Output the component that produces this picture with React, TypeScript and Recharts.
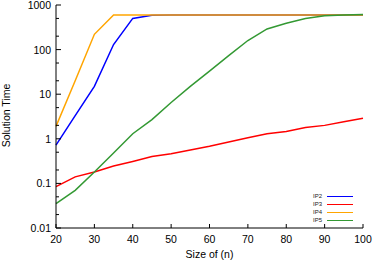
import React from "react";
import { LineChart, Line, XAxis, YAxis } from "recharts";

const sizes = [20, 25, 30, 35, 40, 45, 50, 55, 60, 65, 70, 75, 80, 85, 90, 95, 100];
const ip2 = [0.72, 3.3, 15, 130, 500, 590, 600, 600, 600, 600, 600, 600, 600, 600, 600, 600, 600];
const ip3 = [0.085, 0.14, 0.18, 0.245, 0.31, 0.4, 0.46, 0.56, 0.68, 0.85, 1.05, 1.3, 1.45, 1.8, 2.0, 2.4, 2.9];
const ip4 = [1.9, 20, 220, 600, 600, 600, 600, 600, 600, 600, 600, 600, 600, 600, 600, 600, 600];
const ip5 = [0.035, 0.07, 0.18, 0.48, 1.3, 2.7, 6.5, 15, 33, 73, 160, 290, 390, 500, 575, 600, 610];

const xTicks = [20, 30, 40, 50, 60, 70, 80, 90, 100];
const yTicks = [0.01, 0.02, 0.05, 0.1, 0.2, 0.5, 1, 2, 5, 10, 20, 50, 100, 200, 500, 1000];
const yMajor = [0.01, 0.1, 1, 10, 100, 1000];

const series = [
  { key: "ip2", name: "IP2", color: "#0000ff" },
  { key: "ip3", name: "IP3", color: "#ff0000" },
  { key: "ip4", name: "IP4", color: "#ffa500" },
  { key: "ip5", name: "IP5", color: "#339933" },
];

const data = sizes.map((n, i) => ({ n, ip2: ip2[i], ip3: ip3[i], ip4: ip4[i], ip5: ip5[i] }));

const font = "'Liberation Sans', Arial, sans-serif";
const ink = "#000";

const isMajor = (v: number) => yMajor.some(m => Math.abs(m - v) < 1e-9);

const BottomTick = (p: any) => (
  <g>
    <line x1={p.x} y1={p.y} x2={p.x} y2={p.y - 4} stroke={ink} />
    <text x={p.x} y={p.y + 15} textAnchor="middle" fontSize={10.5} fill="#000" fontFamily={font}>
      {p.payload.value}
    </text>
  </g>
);

const TopTick = (p: any) => <line x1={p.x} y1={p.y} x2={p.x} y2={p.y + 4} stroke={ink} />;

const LeftTick = (p: any) => {
  const v = p.payload.value;
  const major = isMajor(v);
  return (
    <g>
      <line x1={p.x} y1={p.y} x2={p.x + (major ? 5 : 3)} y2={p.y} stroke={ink} />
      {major && (
        <text x={p.x - 5} y={p.y + 4} textAnchor="end" fontSize={10.5} fill="#000" fontFamily={font}>
          {v}
        </text>
      )}
    </g>
  );
};

const RightTick = (p: any) => {
  const major = isMajor(p.payload.value);
  return <line x1={p.x} y1={p.y} x2={p.x - (major ? 5 : 3)} y2={p.y} stroke={ink} />;
};

export default function App() {
  return (
    <div style={{ position: "absolute", left: 0, top: 0, width: 374, height: 261, background: "#fff", fontFamily: font }}>
      <LineChart width={374} height={261} data={data} margin={{ top: 5, right: 11, left: 0, bottom: 0 }}>
        <XAxis
          dataKey="n" type="number" domain={[20, 100]} ticks={xTicks}
          height={33} tickSize={0} tickMargin={0} tick={BottomTick}
          axisLine={{ stroke: ink }} interval={0}
          label={{ value: "Size of (n)", position: "insideBottom", offset: 3, fontSize: 10.5, fill: "#000", fontFamily: font }}
        />
        <XAxis
          xAxisId="top" orientation="top" dataKey="n" type="number" domain={[20, 100]} ticks={xTicks}
          height={0} tickSize={0} tickMargin={0} tick={TopTick} axisLine={{ stroke: ink }} interval={0}
        />
        <YAxis
          scale="log" domain={[0.01, 1000]} ticks={yTicks} allowDataOverflow type="number"
          width={56} tickSize={0} tickMargin={0} tick={LeftTick} axisLine={{ stroke: ink }} interval={0}
          label={{ value: "Solution Time", angle: -90, position: "insideLeft", offset: 6, dy: -1, fontSize: 10.5, fill: "#000", fontFamily: font, style: { textAnchor: "middle" } }}
        />
        <YAxis
          yAxisId="right" orientation="right" scale="log" domain={[0.01, 1000]} ticks={yTicks} allowDataOverflow type="number"
          width={0} tickSize={0} tickMargin={0} tick={RightTick} axisLine={{ stroke: ink }} interval={0}
        />
        {series.map(s => (
          <Line
            key={s.key} dataKey={s.key} name={s.name} stroke={s.color} strokeWidth={1.5}
            dot={false} isAnimationActive={false} type="linear"
          />
        ))}
      </LineChart>
      <div style={{ position: "absolute", left: 296, top: 192, fontSize: 6, color: "#222", lineHeight: "8.1px" }}>
        {series.map(s => (
          <div key={s.key} style={{ display: "flex", alignItems: "center", height: 8.1 }}>
            <span style={{ width: 26, textAlign: "right" }}>{s.name}</span>
            <span style={{ width: 26, height: 0, borderTop: `1.5px solid ${s.color}`, marginLeft: 5 }} />
          </div>
        ))}
      </div>
    </div>
  );
}
